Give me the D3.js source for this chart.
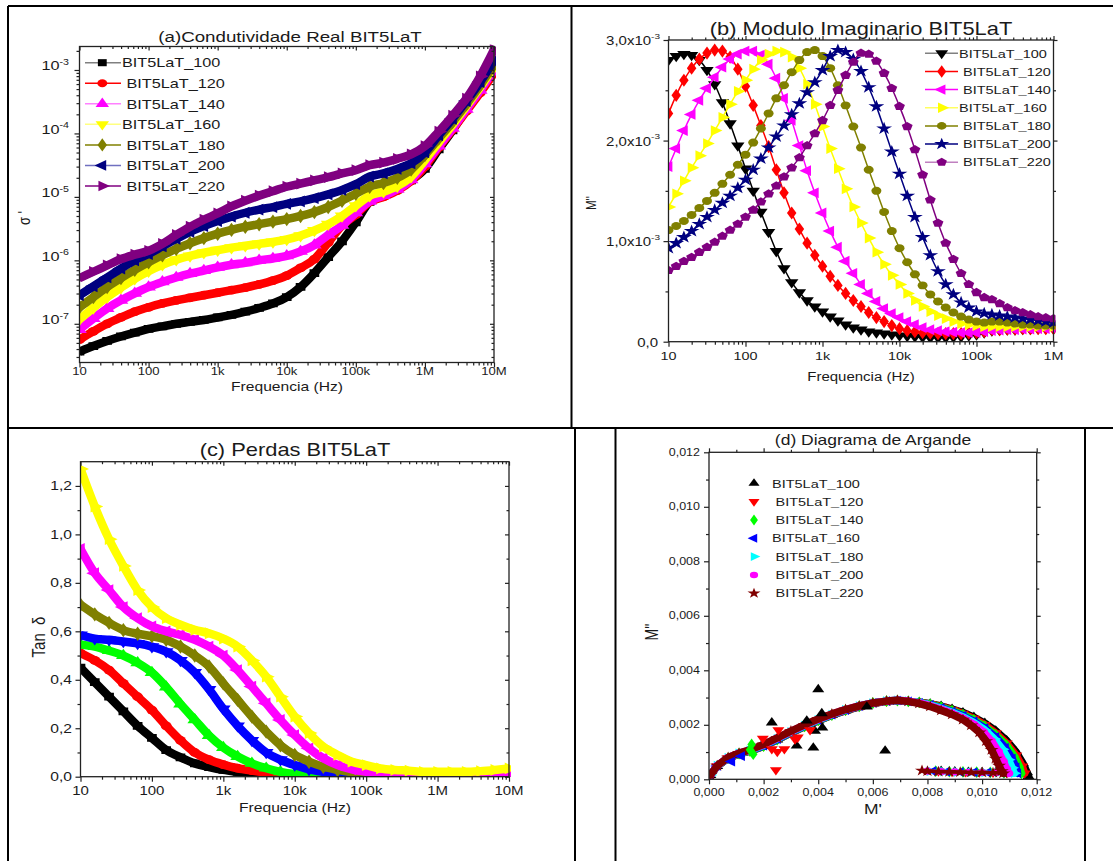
<!DOCTYPE html>
<html>
<head>
<meta charset="utf-8">
<script src="https://cdn.jsdelivr.net/npm/d3@7/dist/d3.min.js"></script>
<style>
html,body{margin:0;padding:0;background:#fff;}
svg{display:block;}
text{font-family:"Liberation Sans",Arial,Helvetica,sans-serif;fill:#1a1a1a;}
</style>
</head>
<body>
<svg id="fig" width="1113" height="861"></svg>
<script>
// ---------- shared labels ----------
const seriesNames = ["BIT5LaT_100","BIT5LaT_120","BIT5LaT_140","BIT5LaT_160","BIT5LaT_180","BIT5LaT_200","BIT5LaT_220"];
const freqTicks = [10,100,1e3,1e4,1e5,1e6,1e7];
const freqTickLabels = ["10","100","1k","10k","100k","1M","10M"];

// ---------- (a) real conductivity, log10(sigma') at log10(f) = 1.0 .. 7.0 ----------
const logFreqAC = [1.0,1.2,1.4,1.6,1.8,2.0,2.2,2.4,2.6,2.8,3.0,3.2,3.4,3.6,3.8,4.0,4.2,4.4,4.6,4.8,5.0,5.2,5.4,5.6,5.8,6.0,6.2,6.4,6.6,6.8,7.0];
const sigma100 = [-7.44,-7.35,-7.27,-7.20,-7.14,-7.08,-7.04,-7.00,-6.97,-6.94,-6.90,-6.86,-6.81,-6.75,-6.68,-6.58,-6.42,-6.20,-5.95,-5.70,-5.40,-5.08,-4.98,-4.88,-4.74,-4.56,-4.25,-3.95,-3.62,-3.27,-2.85];
const sigma120 = [-7.25,-7.12,-7.00,-6.90,-6.81,-6.74,-6.68,-6.63,-6.59,-6.55,-6.51,-6.47,-6.43,-6.38,-6.32,-6.24,-6.12,-5.98,-5.72,-5.45,-5.28,-5.08,-5.00,-4.90,-4.75,-4.52,-4.22,-3.94,-3.65,-3.36,-3.05];
const sigma140 = [-7.09,-6.92,-6.76,-6.63,-6.52,-6.42,-6.34,-6.27,-6.21,-6.16,-6.11,-6.07,-6.04,-6.00,-5.97,-5.93,-5.86,-5.76,-5.60,-5.45,-5.25,-5.07,-4.98,-4.88,-4.73,-4.48,-4.20,-3.92,-3.62,-3.32,-3.00];
const sigma160 = [-6.93,-6.75,-6.58,-6.43,-6.29,-6.17,-6.07,-5.99,-5.93,-5.88,-5.84,-5.80,-5.77,-5.74,-5.71,-5.67,-5.61,-5.53,-5.43,-5.30,-5.14,-4.98,-4.92,-4.83,-4.68,-4.42,-4.14,-3.86,-3.57,-3.27,-2.95];
const sigma180 = [-6.74,-6.58,-6.42,-6.28,-6.15,-6.03,-5.92,-5.82,-5.73,-5.65,-5.58,-5.52,-5.47,-5.43,-5.39,-5.35,-5.30,-5.24,-5.16,-5.06,-4.95,-4.84,-4.78,-4.70,-4.57,-4.34,-4.08,-3.82,-3.54,-3.24,-2.92];
const sigma200 = [-6.55,-6.41,-6.27,-6.13,-6.00,-5.90,-5.78,-5.66,-5.55,-5.46,-5.38,-5.31,-5.25,-5.20,-5.16,-5.11,-5.07,-5.02,-4.96,-4.89,-4.80,-4.68,-4.63,-4.56,-4.47,-4.30,-4.03,-3.77,-3.49,-3.19,-2.85];
const sigma220 = [-6.28,-6.18,-6.08,-5.98,-5.91,-5.85,-5.74,-5.60,-5.47,-5.36,-5.26,-5.15,-5.06,-4.98,-4.91,-4.84,-4.79,-4.74,-4.69,-4.63,-4.58,-4.50,-4.46,-4.40,-4.33,-4.20,-3.97,-3.72,-3.45,-3.10,-2.68];
const sigmaTickExp = [-7,-6,-5,-4,-3];

// ---------- (b) imaginary modulus M'' (x1e-3) at log10(f) = 1.0 .. 6.0 ----------
const logFreqB = [1.0,1.1,1.2,1.3,1.4,1.5,1.6,1.7,1.8,1.9,2.0,2.1,2.2,2.3,2.4,2.5,2.6,2.7,2.8,2.9,3.0,3.1,3.2,3.3,3.4,3.5,3.6,3.7,3.8,3.9,4.0,4.1,4.2,4.3,4.4,4.5,4.6,4.7,4.8,4.9,5.0,5.1,5.2,5.3,5.4,5.5,5.6,5.7,5.8,5.9,6.0];
const mod100 = [2.80,2.84,2.86,2.85,2.80,2.70,2.56,2.38,2.17,1.95, 1.72,1.50,1.29,1.09,0.90,0.73,0.59,0.49,0.41,0.35, 0.30,0.25,0.21,0.17,0.14,0.12,0.10,0.09,0.08,0.07, 0.06,0.055,0.05,0.045,0.04,0.04,0.04,0.045,0.05,0.06, 0.07,0.09,0.11,0.115,0.12,0.12,0.125,0.125,0.13,0.13, 0.13];
const mod120 = [2.27,2.45,2.60,2.72,2.81,2.87,2.90,2.89,2.83,2.71, 2.54,2.35,2.15,1.94,1.71,1.48,1.28,1.12,0.98,0.86, 0.75,0.65,0.56,0.48,0.41,0.35,0.29,0.24,0.20,0.16, 0.13,0.11,0.10,0.09,0.085,0.08,0.08,0.08,0.08,0.085, 0.09,0.10,0.12,0.12,0.125,0.125,0.13,0.13,0.13,0.13, 0.13];
const mod140 = [1.74,1.92,2.10,2.26,2.40,2.52,2.63,2.73,2.81,2.86, 2.89,2.89,2.85,2.76,2.62,2.42,2.20,1.95,1.70,1.48, 1.28,1.10,0.94,0.80,0.68,0.57,0.48,0.40,0.33,0.28, 0.24,0.20,0.17,0.14,0.12,0.11,0.10,0.095,0.09,0.09, 0.09,0.10,0.11,0.115,0.12,0.12,0.125,0.125,0.13,0.13, 0.13];
const mod160 = [1.34,1.47,1.60,1.73,1.85,1.97,2.10,2.23,2.36,2.49, 2.60,2.71,2.80,2.86,2.89,2.88,2.83,2.72,2.56,2.36, 2.14,1.92,1.72,1.52,1.34,1.18,1.03,0.89,0.77,0.66, 0.57,0.48,0.41,0.35,0.30,0.26,0.23,0.20,0.18,0.17, 0.16,0.15,0.15,0.15,0.15,0.15,0.15,0.15,0.15,0.15, 0.15];
const mod180 = [1.11,1.15,1.20,1.26,1.33,1.40,1.48,1.57,1.66,1.76, 1.86,1.98,2.12,2.27,2.42,2.55,2.68,2.80,2.88,2.90, 2.84,2.72,2.55,2.35,2.14,1.93,1.71,1.50,1.29,1.10, 0.93,0.79,0.67,0.56,0.47,0.40,0.34,0.29,0.25,0.22, 0.20,0.19,0.20,0.20,0.19,0.18,0.17,0.17,0.16,0.16, 0.16];
const mod200 = [0.93,0.98,1.04,1.10,1.17,1.24,1.31,1.38,1.45,1.53, 1.61,1.71,1.82,1.93,2.04,2.15,2.26,2.37,2.48,2.58, 2.70,2.84,2.90,2.88,2.81,2.69,2.53,2.34,2.12,1.89, 1.67,1.45,1.24,1.04,0.86,0.70,0.57,0.47,0.39,0.34, 0.30,0.28,0.27,0.26,0.25,0.24,0.23,0.22,0.21,0.20, 0.19];
const mod220 = [0.71,0.75,0.80,0.84,0.89,0.94,0.99,1.05,1.11,1.17, 1.24,1.31,1.39,1.47,1.55,1.64,1.73,1.83,1.95,2.07, 2.20,2.35,2.50,2.65,2.78,2.87,2.86,2.79,2.67,2.52, 2.34,2.14,1.91,1.66,1.41,1.18,0.98,0.82,0.68,0.57, 0.49,0.44,0.42,0.38,0.34,0.31,0.29,0.27,0.25,0.24, 0.23];
const modTicks = [0,1,2,3];
const modTickLabels = ["0,0","1,0x10","2,0x10","3,0x10"];

// ---------- (c) loss tangent at log10(f) = 1.0 .. 7.0 ----------
const tan100 = [0.45,0.39,0.33,0.27,0.21,0.16,0.11,0.08,0.055,0.04,0.028,0.02,0.013,0.008,0.005,0.003, 0.002,0.002,0.002,0.002,0.002,0.002,0.002,0.002,0.002,0.002,0.002,0.003,0.003,0.004,0.005];
const tan120 = [0.51,0.48,0.44,0.385,0.33,0.275,0.21,0.15,0.10,0.07,0.05,0.035,0.025,0.016,0.011,0.007, 0.004,0.003,0.002,0.002,0.002,0.002,0.002,0.002,0.002,0.002,0.002,0.003,0.003,0.004,0.005];
const tan140 = [0.545,0.537,0.52,0.50,0.47,0.43,0.37,0.30,0.235,0.17,0.12,0.083,0.055,0.035,0.02,0.011, 0.007,0.004,0.003,0.002,0.002,0.002,0.002,0.002,0.002,0.002,0.002,0.003,0.003,0.004,0.005];
const tan160 = [0.585,0.57,0.565,0.558,0.55,0.537,0.516,0.48,0.43,0.36,0.28,0.21,0.15,0.10,0.07,0.048, 0.03,0.02,0.013,0.008,0.005,0.004,0.003,0.003,0.003,0.003,0.003,0.003,0.004,0.005,0.007];
const tan180 = [0.71,0.67,0.635,0.605,0.59,0.58,0.565,0.537,0.50,0.455,0.385,0.317,0.248,0.186,0.13,0.09, 0.062,0.041,0.028,0.018,0.011,0.007,0.005,0.004,0.004,0.004,0.004,0.004,0.005,0.006,0.008];
const tan200 = [0.94,0.84,0.77,0.70,0.654,0.62,0.60,0.585,0.565,0.537,0.50,0.44,0.372,0.303,0.234,0.172, 0.117,0.076,0.048,0.03,0.02,0.014,0.011,0.01,0.009,0.009,0.009,0.01,0.011,0.013,0.016];
const tan220 = [1.27,1.115,0.98,0.87,0.77,0.70,0.654,0.627,0.606,0.592,0.57,0.537,0.48,0.413,0.33,0.248, 0.18,0.124,0.09,0.062,0.048,0.034,0.028,0.025,0.02,0.02,0.02,0.02,0.023,0.028,0.034];
const tanTicks = [0,0.2,0.4,0.6,0.8,1.0,1.2];

// ---------- (d) Argand diagram, M' and M'' (x1e-3) ----------
const arg100Re = [0.05,0.3,0.7,1.1,1.5,2.0,2.5,3.0,3.5,4.0,4.5,5.0,5.5,6.0,6.5,6.9, 7.3,7.7,8.1,8.5,8.9,9.3,9.7,10.1,10.5,10.9,11.25,11.5,11.65,11.7, 11.0,10.5,10.0,9.5,9.0,8.5];
const arg100Im = [0.15,0.48,0.77,0.93,1.03,1.21,1.45,1.70,1.93,2.15,2.35,2.52,2.66,2.78,2.86,2.89, 2.86,2.83,2.77,2.69,2.58,2.45,2.28,2.06,1.78,1.42,1.00,0.58,0.25,0.10, 0.24,0.25,0.26,0.27,0.28,0.30];
const arg120Re = [0.05,0.3,0.7,1.1,1.5,2.0,2.5,3.0,3.5,4.0,4.5,5.0,5.5,6.0,6.5,6.9, 7.3,7.7,8.1,8.5,8.9,9.3,9.7,10.1,10.5,10.9,11.25,11.47,11.56, 10.9,10.4,9.9,9.4,8.9,8.4];
const arg120Im = [0.15,0.49,0.78,0.94,1.04,1.22,1.46,1.71,1.94,2.16,2.36,2.53,2.67,2.79,2.86,2.89, 2.86,2.82,2.76,2.67,2.55,2.41,2.23,2.00,1.70,1.32,0.88,0.48,0.22, 0.24,0.25,0.26,0.27,0.28,0.30];
const arg140Re = [0.05,0.3,0.7,1.1,1.5,2.0,2.5,3.0,3.5,4.0,4.5,5.0,5.5,6.0,6.5,6.9, 7.3,7.7,8.1,8.5,8.9,9.3,9.7,10.1,10.5,10.9,11.2,11.37,11.44, 10.8,10.3,9.8,9.3,8.8,8.3];
const arg140Im = [0.15,0.49,0.78,0.94,1.04,1.22,1.46,1.71,1.94,2.16,2.36,2.54,2.68,2.80,2.87,2.89, 2.86,2.82,2.75,2.65,2.52,2.37,2.18,1.94,1.63,1.24,0.82,0.46,0.22, 0.24,0.25,0.26,0.27,0.28,0.30];
const arg160Re = [0.05,0.3,0.7,1.1,1.5,2.0,2.5,3.0,3.5,4.0,4.5,5.0,5.5,6.0,6.5,6.9, 7.3,7.7,8.1,8.5,8.9,9.3,9.7,10.1,10.5,10.85,11.1,11.24,11.3, 10.7,10.2,9.7,9.2,8.7,8.2];
const arg160Im = [0.15,0.49,0.78,0.95,1.05,1.23,1.47,1.72,1.95,2.17,2.37,2.54,2.68,2.80,2.87,2.89, 2.86,2.81,2.73,2.62,2.49,2.33,2.13,1.88,1.55,1.16,0.76,0.44,0.22, 0.24,0.25,0.26,0.27,0.28,0.30];
const arg180Re = [0.05,0.3,0.7,1.1,1.5,2.0,2.5,3.0,3.5,4.0,4.5,5.0,5.5,6.0,6.5,6.9, 7.3,7.7,8.1,8.5,8.9,9.3,9.7,10.1,10.45,10.75,10.97,11.1,11.18, 10.6,10.1,9.6,9.1,8.6,8.1];
const arg180Im = [0.16,0.50,0.79,0.95,1.06,1.25,1.49,1.74,1.97,2.18,2.38,2.55,2.69,2.80,2.87,2.90, 2.87,2.81,2.72,2.60,2.46,2.29,2.08,1.81,1.48,1.10,0.72,0.42,0.22, 0.24,0.25,0.26,0.27,0.28,0.30];
const arg200Re = [0.05,0.3,0.7,1.1,1.5,2.0,2.5,3.0,3.5,4.0,4.5,5.0,5.5,6.0,6.5,6.9, 7.3,7.7,8.1,8.5,8.9,9.3,9.7,10.05,10.35,10.6,10.78,10.9,10.98, 10.5,10.0,9.5,9.0,8.5,8.0];
const arg200Im = [0.16,0.50,0.80,0.96,1.07,1.27,1.51,1.76,1.99,2.20,2.39,2.56,2.69,2.80,2.87,2.90, 2.87,2.80,2.70,2.57,2.42,2.24,2.02,1.74,1.40,1.02,0.66,0.38,0.22, 0.24,0.25,0.26,0.27,0.28,0.30];
const arg220Re = [0.05,0.3,0.7,1.1,1.5,2.0,2.5,3.0,3.5,4.0,4.5,5.0,5.5,6.0,6.5,6.9, 7.3,7.7,8.1,8.5,8.9,9.3,9.6,9.9,10.15,10.35,10.5,10.62,10.72,10.78, 10.4,10.0,9.6,9.2,8.8,8.4,8.0,7.8];
const arg220Im = [0.16,0.50,0.80,0.96,1.08,1.28,1.52,1.77,2.00,2.21,2.40,2.56,2.69,2.80,2.87,2.90, 2.86,2.78,2.67,2.53,2.38,2.19,1.98,1.72,1.40,1.08,0.76,0.50,0.30,0.22, 0.24,0.25,0.25,0.26,0.27,0.28,0.30,0.32];
// scattered low-frequency points
const scatter100Re = [2.30,3.21,3.82,3.88,4.15,4.00,6.45,4.13,3.58,5.78];
const scatter100Im = [2.08,1.23,1.16,1.77,1.89,3.30,1.05,2.42,2.15,2.66];
const scatter120Re = [2.45,2.54,1.97,2.30,2.50,2.76,3.25,3.15,3.70];
const scatter120Im = [0.34,1.81,1.50,1.11,1.01,1.11,1.54,1.47,1.81];
const scatter140Re = [1.56,1.62,1.50];
const scatter140Im = [1.28,0.92,1.08];
const scatter160Re = [0.83,1.19];
const scatter160Im = [0.65,0.85];
const argTicks = [0,2,4,6,8,10,12];

// ---------- styles ----------
const colorsA = ["#000000","#ff0000","#ff00ff","#ffff00","#808000","#000080","#800080"];
const legendLineA = ["#808080","#ff0000","#ff80ff","#ffff80","#808000","#7070c0","#800080"];
const shapesA = ["square","circle","up","down","diamond","left","right"];
const colorsB = ["#000000","#ff0000","#ff00ff","#ffff00","#808000","#000080","#800080"];
const legendLineB = ["#808080","#ff0000","#ff00ff","#ffff60","#808000","#000080","#c080c0"];
const shapesB = ["down","diamond","left","right","circle","star","pentagon"];
const colorsC = ["#000000","#ff0000","#00ff00","#0000ff","#808000","#ff00ff","#ffff00"];
const shapesC = ["square","circle","up","down","diamond","left","right"];
const colorsD = ["#000000","#ff0000","#00ff00","#0000ff","#00ffff","#ff00ff","#800000"];
const shapesD = ["up","down","diamond","left","right","circle","star"];

const SX = 1.25; // horizontal stretch applied to glyphs and symbols
const svg = d3.select("#fig");

const pentagon = {
  draw(ctx, size) {
    const r = Math.sqrt(size / 2.378);
    for (let i = 0; i < 5; i++) {
      const a = -Math.PI / 2 + i * 2 * Math.PI / 5;
      const x = r * Math.cos(a), y = r * Math.sin(a);
      if (i) ctx.lineTo(x, y); else ctx.moveTo(x, y);
    }
    ctx.closePath();
  }
};
const SHAPES = {
  square: [d3.symbolSquare, 0], circle: [d3.symbolCircle, 0],
  up: [d3.symbolTriangle, 0], down: [d3.symbolTriangle, 180],
  left: [d3.symbolTriangle, -90], right: [d3.symbolTriangle, 90],
  diamond: [d3.symbolDiamond, 0], star: [d3.symbolStar, 0], pentagon: [pentagon, 0]
};

function markers(g, pts, shape, size, color) {
  const [type, rot] = SHAPES[shape];
  const d = d3.symbol(type, size)();
  g.append("g").selectAll("path").data(pts).join("path")
    .attr("d", d)
    .attr("transform", p => `translate(${p[0]},${p[1]}) scale(${SX},1) rotate(${rot})`)
    .attr("fill", color);
}

function txt(g, x, y, s, size, anchor, o = {}) {
  const t = g.append("text")
    .attr("transform", `translate(${x},${y}) scale(${SX},1)` + (o.rot ? ` rotate(${o.rot})` : ""))
    .attr("text-anchor", anchor || "middle")
    .attr("font-size", size);
  t.append("tspan").text(s);
  if (o.sup) t.append("tspan").attr("font-size", o.supSize).attr("dy", o.supDy).text(o.sup);
  return t;
}

function tickMarks(g, axisFn, scale, values, len, transform) {
  g.append("g").attr("transform", transform)
    .call(axisFn(scale).tickValues(values).tickSize(len).tickFormat(""))
    .call(a => {
      a.select(".domain").remove();
      a.selectAll("line").attr("stroke", "#222").attr("stroke-width", 1.2);
    });
}

function logMinor(lo, hi) {
  const out = [];
  for (let e = Math.floor(Math.log10(lo)); e <= Math.ceil(Math.log10(hi)); e++) {
    for (let m = 2; m <= 9; m++) {
      const v = m * Math.pow(10, e);
      if (v > lo * 1.0001 && v < hi * 0.9999) out.push(v);
    }
  }
  return out;
}

function frame(g, x, y) {
  const [x0, x1] = x.range(), [y1, y0] = y.range();
  g.append("rect").attr("x", x0).attr("y", y0).attr("width", x1 - x0).attr("height", y1 - y0)
    .attr("fill", "none").attr("stroke", "#222").attr("stroke-width", 1.3);
}

function clipFor(id, x, y) {
  const [x0, x1] = x.range(), [y1, y0] = y.range();
  svg.append("clipPath").attr("id", id).append("rect")
    .attr("x", x0).attr("y", y0 - 2).attr("width", x1 - x0 + 2).attr("height", y1 - y0 + 2);
  return `url(#${id})`;
}

function axesFor(g, x, y, xMajor, xMinor, yMajor, yMinor, rtOut) {
  const [x0, x1] = x.range(), [y1, y0] = y.range();
  tickMarks(g, d3.axisBottom, x, xMajor, 5, `translate(0,${y1})`);
  tickMarks(g, d3.axisBottom, x, xMinor, 3, `translate(0,${y1})`);
  tickMarks(g, d3.axisLeft, y, yMajor, 5, `translate(${x0},0)`);
  tickMarks(g, d3.axisLeft, y, yMinor, 3, `translate(${x0},0)`);
  tickMarks(g, rtOut ? d3.axisTop : d3.axisBottom, x, xMajor, 4, `translate(0,${y0})`);
  tickMarks(g, rtOut ? d3.axisTop : d3.axisBottom, x, xMinor, 2.5, `translate(0,${y0})`);
  tickMarks(g, rtOut ? d3.axisRight : d3.axisLeft, y, yMajor, 4, `translate(${x1},0)`);
  tickMarks(g, rtOut ? d3.axisRight : d3.axisLeft, y, yMinor, 2.5, `translate(${x1},0)`);
  frame(g, x, y);
}

// ---------- panel borders ----------
const borders = svg.append("g").attr("stroke", "#000").attr("stroke-width", 2);
[[8,6,1113,6],[8,6,8,861],[571.5,6,571.5,428],[8,428,1113,428],[575,428,575,861],[615.5,428,615.5,861],[1085,428,1085,861]]
  .forEach(l => borders.append("line").attr("x1", l[0]).attr("y1", l[1]).attr("x2", l[2]).attr("y2", l[3]));

// ================= (a) =================
{
  const g = svg.append("g");
  const x = d3.scaleLog().domain([10, 1e7]).range([79.5, 494]);
  const y = d3.scaleLog().domain([Math.pow(10, -7.61), Math.pow(10, -2.63)]).range([362.5, 46.5]);
  const plot = g.append("g").attr("clip-path", clipFor("clipA", x, y));
  const line = d3.line().curve(d3.curveMonotoneX);
  [sigma100, sigma120, sigma140, sigma160, sigma180, sigma200, sigma220].forEach((vals, i) => {
    const pts = vals.map((v, k) => [x(Math.pow(10, logFreqAC[k])), y(Math.pow(10, v))]);
    plot.append("path").attr("d", line(pts)).attr("fill", "none")
      .attr("stroke", colorsA[i]).attr("stroke-width", 8.5).attr("stroke-linejoin", "round");
    markers(plot, pts, shapesA[i], 60, colorsA[i]);
  });
  const yMaj = sigmaTickExp.map(e => Math.pow(10, e));
  axesFor(g, x, y, freqTicks, logMinor(10, 1e7), yMaj, logMinor(Math.pow(10, -7.61), Math.pow(10, -2.63)), false);
  sigmaTickExp.forEach(e => txt(g, 69, y(Math.pow(10, e)) + 0.5, "10", 13, "end", { sup: String(e), supSize: 8.5, supDy: -5.5 }));
  freqTicks.forEach((v, i) => txt(g, x(v), 374.5, freqTickLabels[i], 10.5, "middle"));
  txt(g, 290, 42, "(a)Condutividade Real BIT5LaT", 15);
  txt(g, 287, 391, "Frequencia (Hz)", 12.5);
  txt(g, 30, 218, "σ '", 13, "middle", { rot: -90 });
  // legend
  seriesNames.forEach((nm, i) => {
    const ly = 62.7 + i * 20.55;
    g.append("line").attr("x1", 85).attr("x2", 121).attr("y1", ly).attr("y2", ly)
      .attr("stroke", legendLineA[i]).attr("stroke-width", 1.5);
    markers(g, [[102.3, ly]], shapesA[i], 50, colorsA[i]);
    txt(g, (i === 0 || i === 3) ? 122 : 126.5, ly + 4.7, nm, 13, "start");
  });
}

// ================= (b) =================
{
  const g = svg.append("g");
  const x = d3.scaleLog().domain([10, 1e6]).range([668.5, 1053.5]);
  const y = d3.scaleLinear().domain([0, 3]).range([341.7, 40]);
  const plot = g.append("g").attr("clip-path", clipFor("clipB", x, y));
  const line = d3.line().curve(d3.curveMonotoneX);
  [mod100, mod120, mod140, mod160, mod180, mod200, mod220].forEach((vals, i) => {
    const pts = vals.map((v, k) => [x(Math.pow(10, logFreqB[k])), y(v)]);
    plot.append("path").attr("d", line(pts)).attr("fill", "none")
      .attr("stroke", colorsB[i]).attr("stroke-width", 1.5);
    markers(plot, pts, shapesB[i], 50, colorsB[i]);
  });
  axesFor(g, x, y, freqTicks.slice(0, 6), logMinor(10, 1e6), modTicks, [0.5, 1.5, 2.5], true);
  modTicks.forEach((v, i) => {
    if (v === 0) txt(g, 658, y(v) + 5, modTickLabels[i], 12, "end");
    else txt(g, 660, y(v) + 5, modTickLabels[i], 12, "end", { sup: "-3", supSize: 8, supDy: -6.5 });
  });
  freqTicks.slice(0, 6).forEach((v, i) => txt(g, x(v), 359.5, freqTickLabels[i], 11.5, "middle"));
  txt(g, 861, 34.5, "(b) Modulo Imaginario BIT5LaT", 17.5);
  txt(g, 861, 381, "Frequencia (Hz)", 12);
  txt(g, 596, 203, "M''", 11.5, "middle", { rot: -90 });
  seriesNames.forEach((nm, i) => {
    const ly = 53.3 + i * 18.15;
    g.append("line").attr("x1", 925).attr("x2", 958).attr("y1", ly).attr("y2", ly)
      .attr("stroke", legendLineB[i]).attr("stroke-width", 1.5);
    markers(g, [[941.7, ly]], shapesB[i], 46, colorsB[i]);
    txt(g, (i === 0 || i === 3) ? 959 : 963, ly + 4.2, nm, 11.6, "start");
  });
}

// ================= (c) =================
{
  const g = svg.append("g");
  const x = d3.scaleLog().domain([10, 1e7]).range([80.5, 509]);
  const y = d3.scaleLinear().domain([0, 1.3]).range([776.7, 461.7]);
  const plot = g.append("g").attr("clip-path", clipFor("clipC", x, y));
  const line = d3.line().curve(d3.curveMonotoneX);
  [tan100, tan120, tan140, tan160, tan180, tan200, tan220].forEach((vals, i) => {
    const pts = vals.map((v, k) => [x(Math.pow(10, logFreqAC[k])), y(v)]);
    plot.append("path").attr("d", line(pts)).attr("fill", "none")
      .attr("stroke", colorsC[i]).attr("stroke-width", 8.5).attr("stroke-linejoin", "round");
    markers(plot, pts, shapesC[i], 60, colorsC[i]);
  });
  axesFor(g, x, y, freqTicks, logMinor(10, 1e7), tanTicks, [0.1, 0.3, 0.5, 0.7, 0.9, 1.1], false);
  const fmt = d3.format(".1f");
  tanTicks.forEach(v => txt(g, 72, y(v) + 4.5, fmt(v).replace(".", ","), 12.5, "end"));
  freqTicks.forEach((v, i) => txt(g, x(v), 795, freqTickLabels[i], 12, "middle"));
  txt(g, 295, 456, "(c) Perdas BIT5LaT", 17.5);
  txt(g, 295, 812, "Frequencia (Hz)", 12.5);
  txt(g, 45, 637, "Tan\u00a0\u00a0δ", 15, "middle", { rot: -90 });
}

// ================= (d) =================
{
  const g = svg.append("g");
  const x = d3.scaleLinear().domain([0, 12]).range([709, 1036.7]);
  const y = d3.scaleLinear().domain([0, 12]).range([779.3, 452.3]);
  const plot = g.append("g").attr("clip-path", clipFor("clipD", x, y));
  const line = d3.line();
  const arcs = [[arg100Re, arg100Im], [arg120Re, arg120Im], [arg140Re, arg140Im], [arg160Re, arg160Im],
                [arg180Re, arg180Im], [arg200Re, arg200Im], [arg220Re, arg220Im]];
  const scat = [[scatter100Re, scatter100Im], [scatter120Re, scatter120Im], [scatter140Re, scatter140Im], [scatter160Re, scatter160Im]];
  arcs.forEach(([re, im], i) => {
    const pts = re.map((v, k) => [x(v), y(im[k])]);
    const turn = d3.maxIndex(re); // end of the semicircle, start of the return branch
    plot.append("path").attr("d", line(pts.slice(0, turn + 1))).attr("fill", "none")
      .attr("stroke", colorsD[i]).attr("stroke-width", 7.5).attr("stroke-linejoin", "round").attr("stroke-linecap", "round");
    plot.append("path").attr("d", line(pts.slice(turn))).attr("fill", "none")
      .attr("stroke", colorsD[i]).attr("stroke-width", 3.5).attr("stroke-linejoin", "round");
    markers(plot, pts, shapesD[i], 40, colorsD[i]);
  });
  scat.forEach(([re, im], i) => {
    markers(plot, re.map((v, k) => [x(v), y(im[k])]), shapesD[i], 40, colorsD[i]);
  });
  axesFor(g, x, y, argTicks, [1, 3, 5, 7, 9, 11], argTicks, [1, 3, 5, 7, 9, 11], true);
  const fmt = d3.format(".3f");
  argTicks.forEach(v => {
    txt(g, 700, y(v) + 3.5, fmt(v / 1000).replace(".", ","), 10, "end");
    txt(g, x(v), 796, fmt(v / 1000).replace(".", ","), 10, "middle");
  });
  txt(g, 873, 445, "(d) Diagrama de Argande", 14);
  txt(g, 873, 814, "M'", 14);
  txt(g, 658, 632, "M''", 14, "middle", { rot: -90 });
  seriesNames.forEach((nm, i) => {
    const ly = 483.3 + i * 18.33;
    markers(g, [[754, ly]], shapesD[i], 34, colorsD[i]);
    txt(g, (i === 0 || i === 3) ? 772 : 775.5, ly + 4.2, nm, 11.6, "start");
  });
}
</script>
</body>
</html>
